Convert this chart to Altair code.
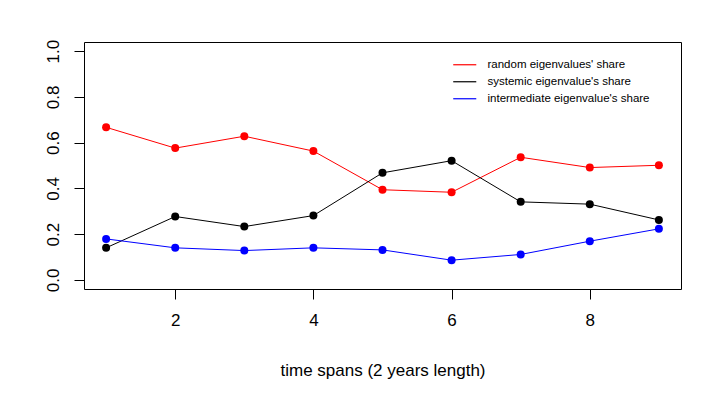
import altair as alt
import pandas as pd

spans = [1, 2, 3, 4, 5, 6, 7, 8, 9]
random_share = [0.667, 0.576, 0.628, 0.563, 0.394, 0.383, 0.536, 0.491, 0.501]
systemic_share = [0.140, 0.277, 0.233, 0.281, 0.468, 0.521, 0.341, 0.331, 0.262]
intermediate_share = [0.179, 0.140, 0.128, 0.140, 0.131, 0.086, 0.111, 0.169, 0.223]

series_names = ["random eigenvalues' share", "systemic eigenvalue's share", "intermediate eigenvalue's share"]
series_colors = ["#ff0000", "#000000", "#0000ff"]

rows = []
for name, vals in zip(series_names, [random_share, systemic_share, intermediate_share]):
    for x, v in zip(spans, vals):
        rows.append({"span": x, "share": v, "series": name})
df = pd.DataFrame(rows)

FONT = "Liberation Sans"

x = alt.X("span:Q",
          scale=alt.Scale(domain=[0.68, 9.32], nice=False, zero=False),
          axis=alt.Axis(values=[2, 4, 6, 8], title="time spans (2 years length)",
                        grid=False, domain=False, tickSize=10, tickColor="#000000",
                        labelFontSize=17, labelFont=FONT, labelColor="#000000",
                        labelPadding=13, titleFont=FONT, titleFontSize=17,
                        titleFontWeight="normal", titleColor="#000000", titlePadding=34))
y = alt.Y("share:Q",
          scale=alt.Scale(domain=[-0.04, 1.04], nice=False, zero=False),
          axis=alt.Axis(values=[0, 0.2, 0.4, 0.6, 0.8, 1.0], format=".1f", title=None,
                        grid=False, domain=False, tickSize=10, tickColor="#000000",
                        labelFontSize=17, labelFont=FONT, labelColor="#000000",
                        labelAngle=-90, labelAlign="center", labelBaseline="bottom",
                        labelPadding=12))
color = alt.Color("series:N",
                  scale=alt.Scale(domain=series_names, range=series_colors),
                  legend=alt.Legend(title=None, orient="none", legendX=375, legendY=17,
                                    symbolType="M-3,0L3,0", symbolSize=59, symbolStrokeWidth=1.2,
                                    labelFont=FONT, labelFontSize=11.5, labelColor="#000000",
                                    labelLimit=400, labelOffset=17, rowPadding=4, padding=0))

lines = alt.Chart(df).mark_line(strokeWidth=1).encode(x=x, y=y, color=color)
points = alt.Chart(df).mark_point(filled=True, size=64, opacity=1, shape="circle").encode(
    x=x, y=y, color=alt.Color("series:N", scale=alt.Scale(domain=series_names, range=series_colors), legend=None))

chart = alt.layer(lines, points).properties(
    width=597, height=247,
    autosize=alt.AutoSizeParams(type="none"),
    padding={"left": 76, "top": 34, "right": 30, "bottom": 90},
    background="white",
).configure_view(stroke="#000000", strokeWidth=1)

chart.save("out.html", embed_options={"renderer": "svg", "actions": False})
